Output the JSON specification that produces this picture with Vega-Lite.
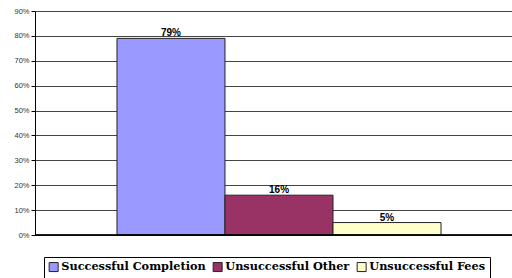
{
  "$schema": "https://vega.github.io/schema/vega-lite/v6.json",
  "width": 477,
  "height": 224,
  "autosize": "none",
  "padding": {"left": 35, "top": 11, "right": 0, "bottom": 43},
  "background": "white",
  "config": {"view": {"stroke": null}},
  "data": {
    "values": [
      {"series": "Successful Completion", "value": 0.79, "label": "79%"},
      {"series": "Unsuccessful Other", "value": 0.16, "label": "16%"},
      {"series": "Unsuccessful Fees", "value": 0.05, "label": "5%"}
    ]
  },
  "encoding": {
    "x": {
      "field": "series",
      "type": "nominal",
      "sort": null,
      "scale": {"paddingInner": 0, "paddingOuter": 0.708, "align": 0.536},
      "axis": null
    },
    "y": {
      "field": "value",
      "type": "quantitative",
      "scale": {"domain": [0, 0.9], "nice": false},
      "axis": {
        "values": [0, 0.1, 0.2, 0.3, 0.4, 0.5, 0.6, 0.7, 0.8, 0.9],
        "format": ".0%",
        "title": null,
        "labelFont": "Liberation Sans",
        "labelFontSize": 7.5,
        "labelColor": "#333",
        "labelPadding": 2,
        "labelOverlap": false,
        "labelFlush": false,
        "tickSize": 4,
        "tickColor": "#000",
        "domainColor": "#000",
        "grid": true,
        "gridColor": "#444",
        "gridWidth": 1
      }
    }
  },
  "layer": [
    {
      "mark": {"type": "bar", "stroke": "#222", "strokeWidth": 1},
      "encoding": {
        "color": {
          "field": "series",
          "type": "nominal",
          "sort": null,
          "scale": {"range": ["#9999FF", "#993366", "#FFFFCC"]},
          "legend": {
            "orient": "none",
            "legendX": 9,
            "legendY": 246,
            "direction": "horizontal",
            "title": null,
            "symbolType": "square",
            "symbolSize": 81,
            "symbolStrokeColor": "#222",
            "symbolStrokeWidth": 1,
            "labelFont": "DejaVu Serif",
            "labelFontWeight": "bold",
            "labelFontSize": 11.3,
            "labelColor": "#000",
            "labelOffset": 2,
            "columnPadding": 5,
            "strokeColor": "#000",
            "padding": 4,
            "fillColor": "white"
          }
        }
      }
    },
    {
      "mark": {"type": "text", "dy": -5, "font": "Liberation Sans", "fontWeight": "bold", "fontSize": 10, "color": "#000"},
      "encoding": {
        "text": {"field": "label"}
      }
    },
    {
      "mark": {"type": "rule", "color": "#000", "strokeWidth": 1},
      "encoding": {"y": {"datum": 0}, "x": {"value": 0}, "x2": {"value": 477}}
    }
  ]
}
